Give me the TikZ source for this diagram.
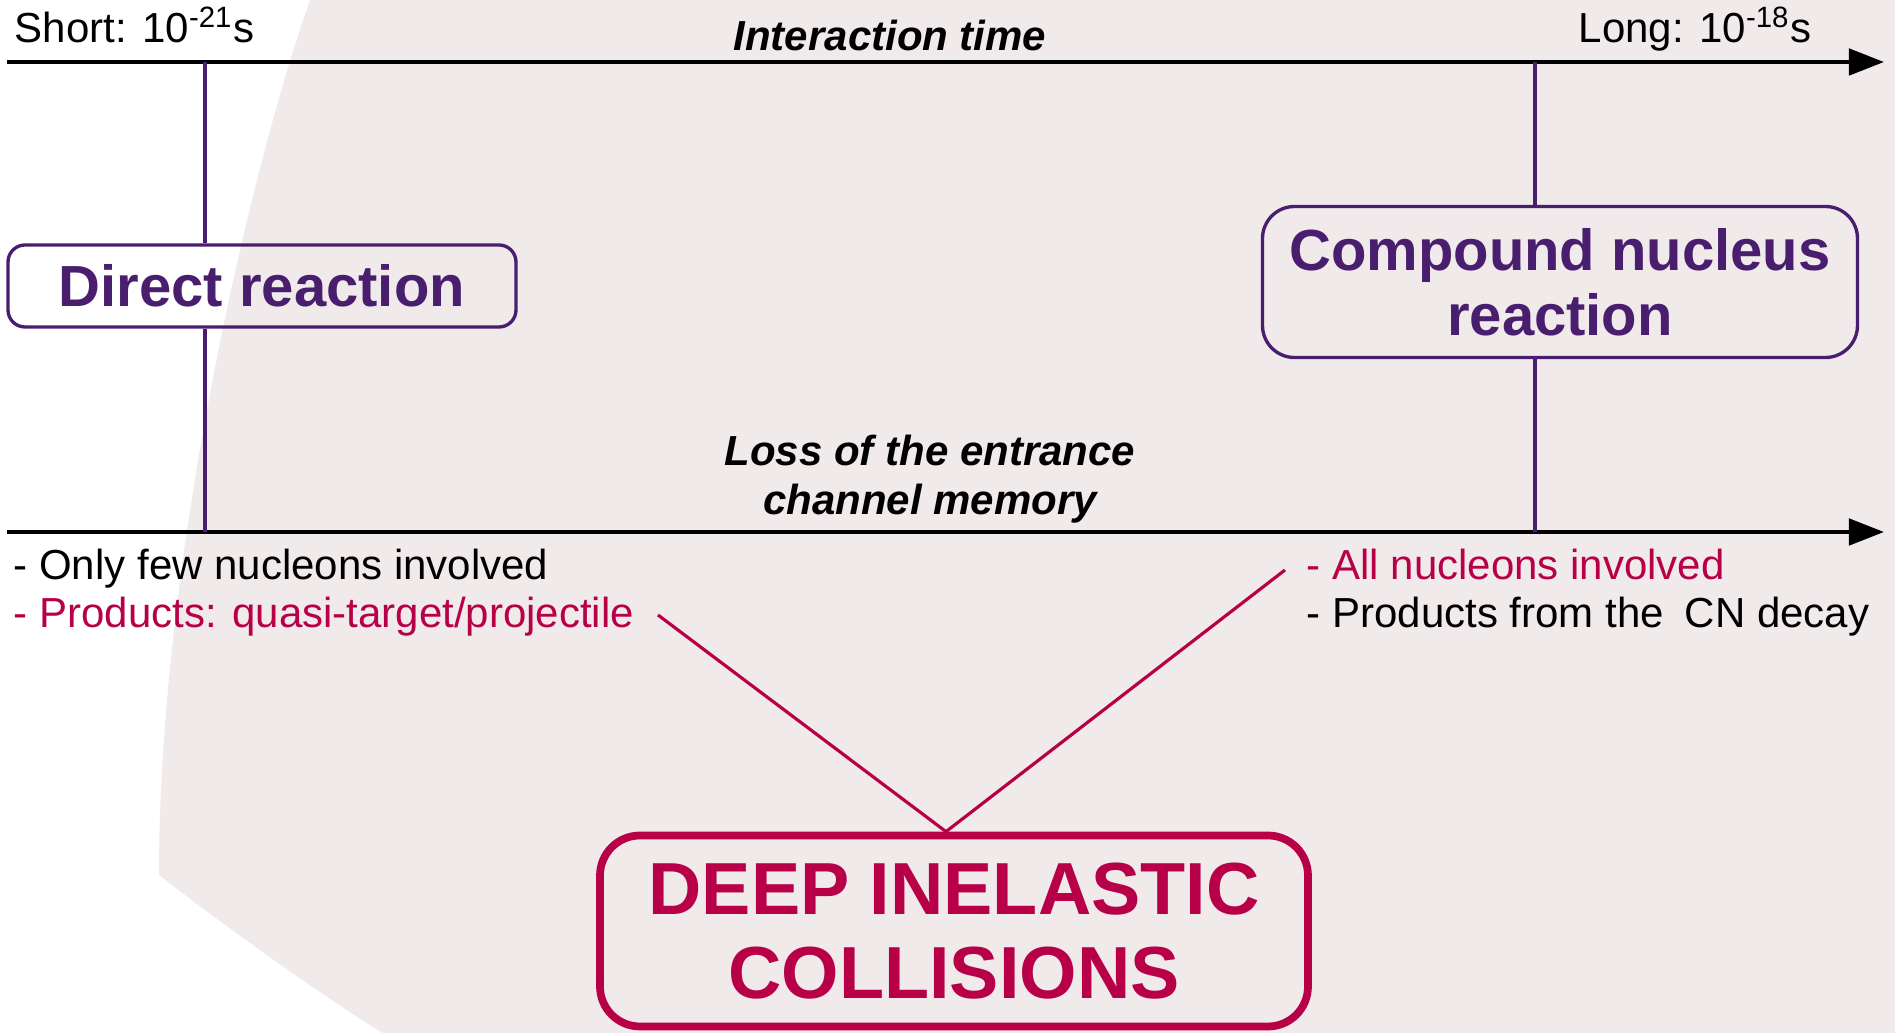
\documentclass[tikz,border=0pt]{standalone}
\usepackage{fontspec}
\setmainfont{Liberation Sans}
\usepackage{tikz}
\usetikzlibrary{arrows.meta,calc,positioning}
\usepackage{xcolor}
\definecolor{plum}{HTML}{4A1E6E}
\definecolor{wine}{HTML}{B70048}
\definecolor{mist}{HTML}{F0EAEB}

\begin{document}
\begin{tikzpicture}[
    axis/.style={line width=1.15pt,-{Triangle[length=10pt,width=7.5pt]}},
    tick/.style={plum,line width=0.95pt},
    link/.style={wine,line width=0.9pt},
    txt/.style={inner sep=0pt,font=\fontsize{11.95}{13.8}\selectfont},
    head/.style={inner sep=0pt,font=\fontsize{11.95}{13.8}\selectfont\bfseries\itshape},
    kind/.style={draw=plum,line width=0.95pt,text=plum,align=center,inner sep=0pt,
        font=\fontsize{16.5}{18.5}\selectfont\bfseries},
]
    \useasboundingbox (0,0) rectangle (18.95,10.33);
    % shaded backdrop
    \fill[mist] (3.10,10.33) .. controls (2.50,8.63) and (1.59,4.73) .. (1.59,1.58)
        .. controls (2.10,1.18) and (3.20,0.38) .. (3.83,0) -- (18.95,0) -- (18.95,10.33) -- cycle;
    % the two axes
    \coordinate (t0) at (0.07,9.71);
    \coordinate (t1) at (18.84,9.71);
    \coordinate (m0) at (0.07,5.01);
    \coordinate (m1) at (18.84,5.01);
    \draw[axis] (t0) -- (t1);
    \draw[axis] (m0) -- (m1);
    % reaction boxes
    \node[kind,minimum width=5.08cm,minimum height=0.82cm,rounded corners=0.17cm] (direct) at (2.62,7.47) {Direct reaction};
    \node[kind,minimum width=5.95cm,minimum height=1.51cm,rounded corners=0.32cm] (compound) at (15.60,7.51) {Compound nucleus\\reaction};
    \node[draw=wine,line width=2.2pt,text=wine,align=center,inner sep=0pt,
        font=\fontsize{21}{23.9}\selectfont\bfseries,
        minimum width=7.08cm,minimum height=1.91cm,rounded corners=0.4cm] (deep) at (9.54,1.02) {DEEP INELASTIC\\COLLISIONS};
    % ticks from the boxes to the axes
    \coordinate (ds) at (2.05,9.71);
    \coordinate (de) at (2.05,5.01);
    \coordinate (cs) at (15.35,9.71);
    \coordinate (ce) at (15.35,5.01);
    \draw[tick] (ds) -- (ds |- direct.north);
    \draw[tick] (direct.south -| de) -- (de);
    \draw[tick] (cs) -- (cs |- compound.north);
    \draw[tick] (compound.south -| ce) -- (ce);
    % axis labels
    \node[txt,anchor=base west] (short) at (0.14,9.90) {Short: 10\textsuperscript{-21}s};
    \node[txt,anchor=base east] (long) at (18.12,9.90) {Long: 10\textsuperscript{-18}s};
    \node[head,anchor=base] (itime) at (8.90,9.82) {Interaction time};
    \node[head,anchor=base] (loss) at (9.30,5.67) {Loss of the entrance};
    \node[head,anchor=base] (chan) at (9.30,5.18) {channel memory};
    % features
    \node[txt,anchor=base west] (few) at (0.13,4.53) {- Only few nucleons involved};
    \node[txt,anchor=base west,text=wine] (qtp) at (0.13,4.05) {- Products: quasi-target/projectile};
    \node[txt,anchor=base west,text=wine] (all) at (13.06,4.53) {- All nucleons involved};
    \node[txt,anchor=base west] (cnd) at (13.06,4.05) {- Products from the\enspace CN decay};
    % links to deep inelastic
    \coordinate (qend) at (6.58,4.18);
    \coordinate (aend) at (12.85,4.63);
    \coordinate (meet) at ($(deep.north)+(-0.08,0)$);
    \draw[link] (qend) -- (meet) -- (aend);
\end{tikzpicture}
\end{document}
